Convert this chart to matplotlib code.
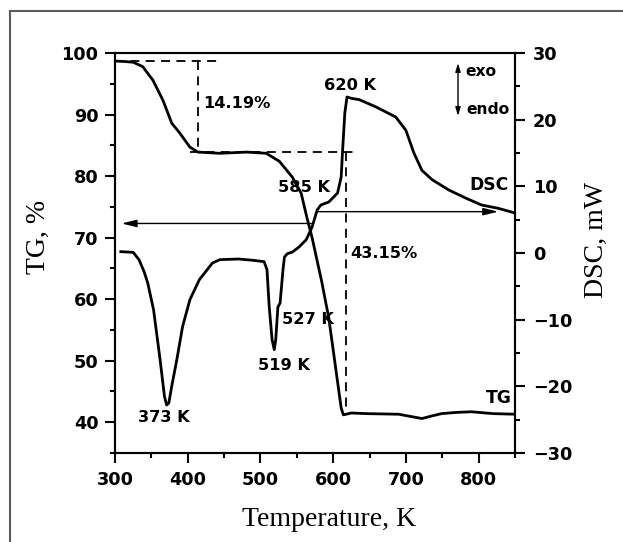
import numpy as np
import matplotlib
matplotlib.use('Agg')
import matplotlib.pyplot as plt
from matplotlib.lines import Line2D
from matplotlib.ticker import MultipleLocator

# TG curve (left axis, %)
tg_T = [300, 315, 325, 338, 352, 366, 378, 389, 403, 414, 444, 481, 508, 526, 544, 556,
        564, 571, 578, 584, 594, 604, 611, 614, 625, 645, 690, 722, 735, 749, 770, 790, 820, 850]
tg_v = [98.7, 98.6, 98.5, 97.8, 95.6, 92.3, 88.6, 87.0, 84.7, 83.9, 83.7, 83.9, 83.7, 82.4, 79.8, 77.2,
        73.2, 70.0, 66.2, 63.0, 56.9, 48.3, 42.3, 41.2, 41.5, 41.4, 41.3, 40.6, 41.0, 41.4, 41.6, 41.7, 41.4, 41.3]

# DSC curve (right axis, mW)
dsc_T = [308, 325, 333, 340, 345, 353, 362, 368, 371, 374, 378, 385, 393, 403, 416, 434, 444,
         470, 490, 505, 509, 512, 516, 519, 521, 524, 527, 529, 531, 533, 537, 544, 553, 563,
         571, 578, 583, 594, 606, 611, 613, 616, 619, 625, 636, 659, 686, 700, 711, 722, 736,
         759, 782, 804, 827, 850]
dsc_v = [0.2, 0.1, -1.0, -2.8, -4.5, -8.5, -16, -21.5, -22.8, -22.5, -20, -16, -11, -7, -4, -1.5, -1.0,
         -0.9, -1.1, -1.3, -2.5, -8, -13, -14.5, -13, -8.1, -7.5, -5, -2.5, -0.6, -0.1, 0.15, 0.9, 2.0,
         3.9, 6.45, 7.2, 7.65, 9.0, 11.4, 15.5, 21, 23.4, 23.2, 23.0, 21.9, 20.4, 18.4, 15, 12.4, 11.0,
         9.45, 8.25, 7.2, 6.7, 6.0]

# mass-loss step marks (T, TG)
step1_T = [300, 441]
step1_top = 98.7
step1_x = 414
step1_bot = 83.9
step2_T = [403, 633]
step2_x = 617
step2_bot = 42.3

bold = dict(family='DejaVu Sans', weight='bold')

fig = plt.figure(figsize=(6.23, 5.42), dpi=100)
ax1 = fig.add_axes([115/623, 1-453/542, 400/623, 400/542])
ax2 = ax1.twinx()

ax1.plot(tg_T, tg_v, color='black', lw=2.0)
ax2.plot(dsc_T, dsc_v, color='black', lw=2.0)

ax1.set_xlim(300, 850)
ax1.set_ylim(35, 100)
ax2.set_ylim(-30, 30)

# dashed step lines
dash = dict(color='black', lw=1.3, dashes=(5, 3.5))
ax1.plot(step1_T, [step1_top, step1_top], **dash)
ax1.plot([step1_x, step1_x], [step1_top, step1_bot], **dash)
ax1.plot(step2_T, [step1_bot, step1_bot], **dash)
ax1.plot([step2_x, step2_x], [step1_bot, step2_bot], **dash)

# axis-pointing arrows
arr = dict(arrowstyle='-|>,head_length=0.9,head_width=0.22', color='black', lw=1.0, shrinkA=0, shrinkB=0)
ax1.annotate('', xy=(309, 72.3), xytext=(570, 72.3), arrowprops=arr)
ax2.annotate('', xy=(827, 6.2), xytext=(578, 6.2), arrowprops=arr)

# ticks
ax1.xaxis.set_major_locator(MultipleLocator(100))
ax1.xaxis.set_minor_locator(MultipleLocator(50))
ax1.yaxis.set_major_locator(MultipleLocator(10))
ax1.yaxis.set_minor_locator(MultipleLocator(5))
ax2.yaxis.set_major_locator(MultipleLocator(10))
ax2.yaxis.set_minor_locator(MultipleLocator(5))
for ax in (ax1, ax2):
    for s in ax.spines.values():
        s.set_linewidth(1.5)
    ax.tick_params(which='major', direction='out', length=7.5, width=1.5, labelsize=12.7)
    ax.tick_params(which='minor', direction='out', length=3.8, width=1.5)
ax1.tick_params(axis='y', pad=4.5)
ax1.tick_params(axis='x', pad=5.5)
ax2.tick_params(axis='y', pad=5.5)
for lab in ax1.get_xticklabels() + ax1.get_yticklabels() + ax2.get_yticklabels():
    lab.set_fontweight('bold')
    lab.set_family('DejaVu Sans')

# axis titles
fig.text(38/623, 1-237/542, 'TG, %', rotation=90, ha='center', va='center',
         family='Liberation Serif', fontsize=20)
fig.text(596/623, 1-240/542, 'DSC, mW', rotation=90, ha='center', va='center',
         family='Liberation Serif', fontsize=20)
fig.text(329/623, 1-520/542, 'Temperature, K', ha='center', va='center',
         family='Liberation Serif', fontsize=20)

# annotations (placed in axes fraction)
def px(x, y):
    return (x - 115) / 400, 1 - (y - 53) / 400

def note(x, y, s, ha='center', size=11.7):
    ax1.text(*px(x, y), s, transform=ax1.transAxes, ha=ha, va='center', fontsize=size, **bold)

note(203, 104, '14.19%', ha='left')
note(350, 86, '620 K')
note(304, 188, '585 K')
note(509, 185, 'DSC', ha='right', size=12.3)
note(350, 253, '43.15%', ha='left')
note(282, 319, '527 K', ha='left')
note(284, 366, '519 K')
note(164, 418, '373 K')
note(512, 398, 'TG', ha='right', size=12.3)
note(465, 72, 'exo', ha='left', size=11.2)
note(466, 110, 'endo', ha='left', size=11.2)

ax1.annotate('', xy=px(458, 63), xytext=px(458, 116), xycoords='axes fraction', textcoords='axes fraction',
             arrowprops=dict(arrowstyle='<|-|>,head_length=0.5,head_width=0.15', color='black', lw=1.0,
                             shrinkA=0, shrinkB=0))

# outer frame (only top and left visible)
fig.add_artist(Line2D([10/623, 1], [1-11/542, 1-11/542], transform=fig.transFigure, color='#5a5a5a', lw=1.5))
fig.add_artist(Line2D([10/623, 10/623], [0, 1-11/542], transform=fig.transFigure, color='#5a5a5a', lw=1.5))

fig.savefig('out.png', dpi=100)
